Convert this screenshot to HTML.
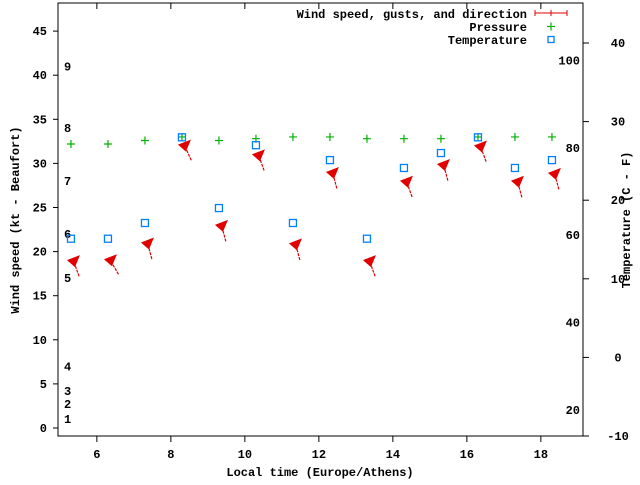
<!DOCTYPE html>
<html><head><meta charset="utf-8"><style>
body{margin:0;background:#fff}
svg text{font-family:"Liberation Mono","DejaVu Sans Mono",monospace;font-weight:bold;font-size:12px;fill:#000}
</style></head><body>
<svg id="chart" width="640" height="480" xmlns="http://www.w3.org/2000/svg">
<g id="axes"></g><g id="marks"></g>
</svg>
<script>
const hours = [5.3,6.3,7.3,8.3,9.3,10.3,11.3,12.3,13.3,14.3,15.3,16.3,17.3,18.3];
const windKt = [18.8,18.9,20.8,31.9,22.8,30.8,20.7,28.8,18.8,27.8,29.7,31.8,27.8,28.7];
const windDir = [340,330,345,335,345,340,345,345,340,340,345,340,345,345];
const pressure = [32.2,32.2,32.6,33.0,32.6,32.8,33.0,33.0,32.8,32.8,32.8,33.0,33.0,33.0];
const tempC = [15.1,15.1,17.1,28.0,19.0,27.0,17.1,25.1,15.1,24.1,26.0,28.0,24.1,25.1];
const xTicks = [6,8,10,12,14,16,18];
const yTicks = [0,5,10,15,20,25,30,35,40,45];
const y2Ticks = [-10,0,10,20,30,40];
const beaufort = [[1,1],[2,2.7],[3,4.2],[4,7.0],[5,17.0],[6,22.0],[7,28.0],[8,34.0],[9,41.0]];
const fahr = [100,80,60,40,20];

const L=58,R=583,T=3,B=436;
const X=v=>L+(v-4.95)*37;
const Y=v=>428-v*8.82;
const Y2=c=>43+(40-c)*7.86;
const NS='http://www.w3.org/2000/svg';
function mk(tag,attrs,parent,txt){const e=document.createElementNS(NS,tag);for(const k in attrs)e.setAttribute(k,attrs[k]);if(txt!==undefined)e.textContent=txt;parent.appendChild(e);return e;}
const ax=document.getElementById('axes'),mg=document.getElementById('marks');

const frame=mk('rect',{x:L,y:T,width:R-L,height:B-T,fill:'none',stroke:'#000','stroke-width':1},ax);


xTicks.forEach(v=>{
  const x=X(v);
  mk('line',{x1:x,y1:B,x2:x,y2:B+6,stroke:'#000'},ax);
  mk('line',{x1:x,y1:T,x2:x,y2:T+6,stroke:'#000'},ax);
  const t=mk('text',{x:x,y:B+22,'text-anchor':'middle'},ax,String(v));
  
  
});
yTicks.forEach(v=>{
  const y=Y(v);
  mk('line',{x1:L-5,y1:y,x2:L,y2:y,stroke:'#000'},ax);
  const t=mk('text',{x:L-11,y:y+4,'text-anchor':'end'},ax,String(v));
  
  
});
y2Ticks.forEach(v=>{
  const y=Y2(v);
  mk('line',{x1:R,y1:y,x2:R+6,y2:y,stroke:'#000'},ax);
  const t=mk('text',{x:R+35,y:y+4,'text-anchor':'middle'},ax,String(v));
  
  
});
beaufort.forEach(b=>{
  const t=mk('text',{x:64,y:Y(b[1])+4},ax,String(b[0]));
  
  
});
fahr.forEach(f=>{
  const t=mk('text',{x:580,y:Y2((f-32)*5/9)+4,'text-anchor':'end'},ax,String(f));
  
  
});
let t=mk('text',{x:320,y:476,'text-anchor':'middle'},ax,'Local time (Europe/Athens)');


t=mk('text',{x:0,y:0,'text-anchor':'middle',transform:'translate(19,220) rotate(-90)'},ax,'Wind speed (kt - Beaufort)');


t=mk('text',{x:0,y:0,'text-anchor':'middle',transform:'translate(630,220) rotate(-90)'},ax,'Temperature (C - F)');



// legend
const lg=mk('g',{},ax);


t=mk('text',{x:527,y:18,'text-anchor':'end'},lg,'Wind speed, gusts, and direction');


mk('line',{x1:535,y1:13,x2:567,y2:13,stroke:'#e00000'},lg);
mk('line',{x1:535,y1:10,x2:535,y2:16,stroke:'#e00000'},lg);
mk('line',{x1:567,y1:10,x2:567,y2:16,stroke:'#e00000'},lg);
mk('line',{x1:551,y1:10,x2:551,y2:16,stroke:'#e00000'},lg);
t=mk('text',{x:527,y:31,'text-anchor':'end'},lg,'Pressure');


mk('path',{d:'M547 26.5h8M551 22.5v8',stroke:'#00b000','stroke-width':1.2,fill:'none'},lg);
t=mk('text',{x:527,y:44,'text-anchor':'end'},lg,'Temperature');


mk('rect',{x:548,y:36.5,width:6,height:6,fill:'none',stroke:'#0080ff','stroke-width':1.3},lg);

hours.forEach((h,i)=>{
  const x=X(h);
  // pressure
  const py=Y(pressure[i]);
  const p=mk('path',{d:`M${x-4} ${py}h8M${x} ${py-4}v8`,stroke:'#00b000','stroke-width':1.2,fill:'none'},mg);
  
  
  // wind arrow
  const wy=Y(windKt[i]);
  const a=(windDir[i]-180)*Math.PI/180; // direction of travel
  const dx=Math.sin(a)*-1, dy=Math.cos(a)*1; // pointing down
  const tx=x+3, ty=wy;
  const g=mk('g',{},mg);
  
  
  mk('line',{x1:tx-dx*15,y1:ty-dy*15,x2:tx,y2:ty,stroke:'#e00000','stroke-width':1.2,'stroke-dasharray':'3,1'},g);
  mk('path',{d:`M${tx-7} ${ty-2} L${tx+6} ${ty-7} L${tx+1} ${ty+5} Z`,fill:'#e00000'},g);
  // temperature
  const ty2=Y2(tempC[i]);
  const s=mk('rect',{x:x-3.5,y:ty2-3.5,width:7,height:7,fill:'none',stroke:'#0080ff','stroke-width':1.3},mg);
  
  
});
</script>
</body></html>
